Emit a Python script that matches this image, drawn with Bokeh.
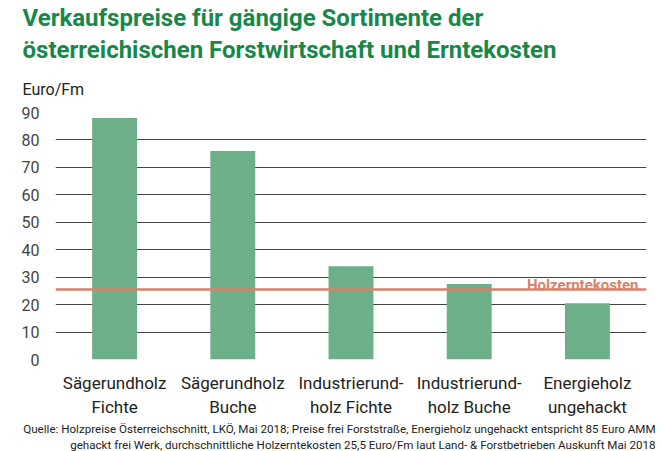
from bokeh.plotting import figure
from bokeh.models import FixedTicker, Label, Span, ColumnDataSource, Title
from bokeh.embed import file_html
from bokeh.resources import INLINE

categories = ["Sägerundholz\nFichte", "Sägerundholz\nBuche", "Industrierund-\nholz Fichte",
              "Industrierund-\nholz Buche", "Energieholz\nungehackt"]
prices = [88, 76, 34, 27.5, 20.5]
harvest_cost = 25.5
y_ticks = [0, 10, 20, 30, 40, 50, 60, 70, 80, 90]

title_lines = ["Verkaufspreise für gängige Sortimente der",
               "österreichischen Forstwirtschaft und Erntekosten"]
unit_label = "Euro/Fm"
cost_label = "Holzerntekosten"
source_lines = ["Quelle: Holzpreise Österreichschnitt, LKÖ, Mai 2018; Preise frei Forststraße, Energieholz ungehackt entspricht 85 Euro AMM",
                "gehackt frei Werk, durchschnittliche Holzerntekosten 25,5 Euro/Fm laut Land- & Forstbetrieben Auskunft Mai 2018"]

FONT = "Roboto"
GREEN = "#17884a"
BAR = "#6caf89"
SALMON = "#d9826b"

p = figure(x_range=categories, y_range=(0, 90), width=662, height=451,
           output_backend="svg", toolbar_location=None,
           min_border_left=55, min_border_right=16, min_border_top=112, min_border_bottom=84)
p.outline_line_color = None
p.background_fill_color = "white"
p.border_fill_color = "white"

src = ColumnDataSource(dict(cat=categories, val=prices))
p.vbar(x="cat", top="val", width=0.38, source=src, fill_color=BAR, line_color=None)

p.yaxis.ticker = FixedTicker(ticks=y_ticks)
p.ygrid.ticker = FixedTicker(ticks=y_ticks)
p.ygrid.grid_line_color = "#444444"
p.ygrid.grid_line_width = 1
p.xgrid.grid_line_color = None
p.yaxis.axis_line_color = None
p.yaxis.major_tick_line_color = None
p.yaxis.minor_tick_line_color = None
p.yaxis.major_label_text_font = FONT
p.yaxis.major_label_text_font_size = "16px"
p.yaxis.major_label_text_color = "#444444"
p.yaxis.major_label_standoff = 10
p.xaxis.axis_line_color = None
p.xaxis.major_tick_line_color = None
p.xaxis.major_label_text_font = FONT
p.xaxis.major_label_text_font_size = "17px"
p.xaxis.major_label_text_color = "#222222"
p.xaxis.major_label_standoff = 7

p.add_layout(Span(location=harvest_cost, dimension="width", line_color=SALMON, line_width=2.5))
p.add_layout(Label(x=583, y=harvest_cost, x_units="screen", y_units="data", y_offset=5,
                   text=cost_label, text_align="right", text_baseline="alphabetic",
                   text_font=FONT, text_font_size="15px", text_font_style="bold",
                   text_color=SALMON))

# above panels: closest to the frame first
p.add_layout(Title(text=unit_label, align="left", offset=-33, standoff=27,
                   text_font=FONT, text_font_size="16px", text_font_style="normal",
                   text_line_height=0.8, text_color="#222222"), "above")
p.add_layout(Title(text="\n".join(title_lines), align="left", offset=-33, standoff=0,
                   text_font=FONT, text_font_size="24px", text_font_style="bold",
                   text_line_height=1.16, text_color=GREEN), "above")
# below panels: after the axis
for line in source_lines:
    p.add_layout(Title(text=line, align="right", offset=-9, standoff=0,
                       text_font=FONT, text_font_size="11.6px", text_font_style="normal",
                       text_color="#222222"), "below")

open("out.html", "w").write(file_html(p, INLINE))
